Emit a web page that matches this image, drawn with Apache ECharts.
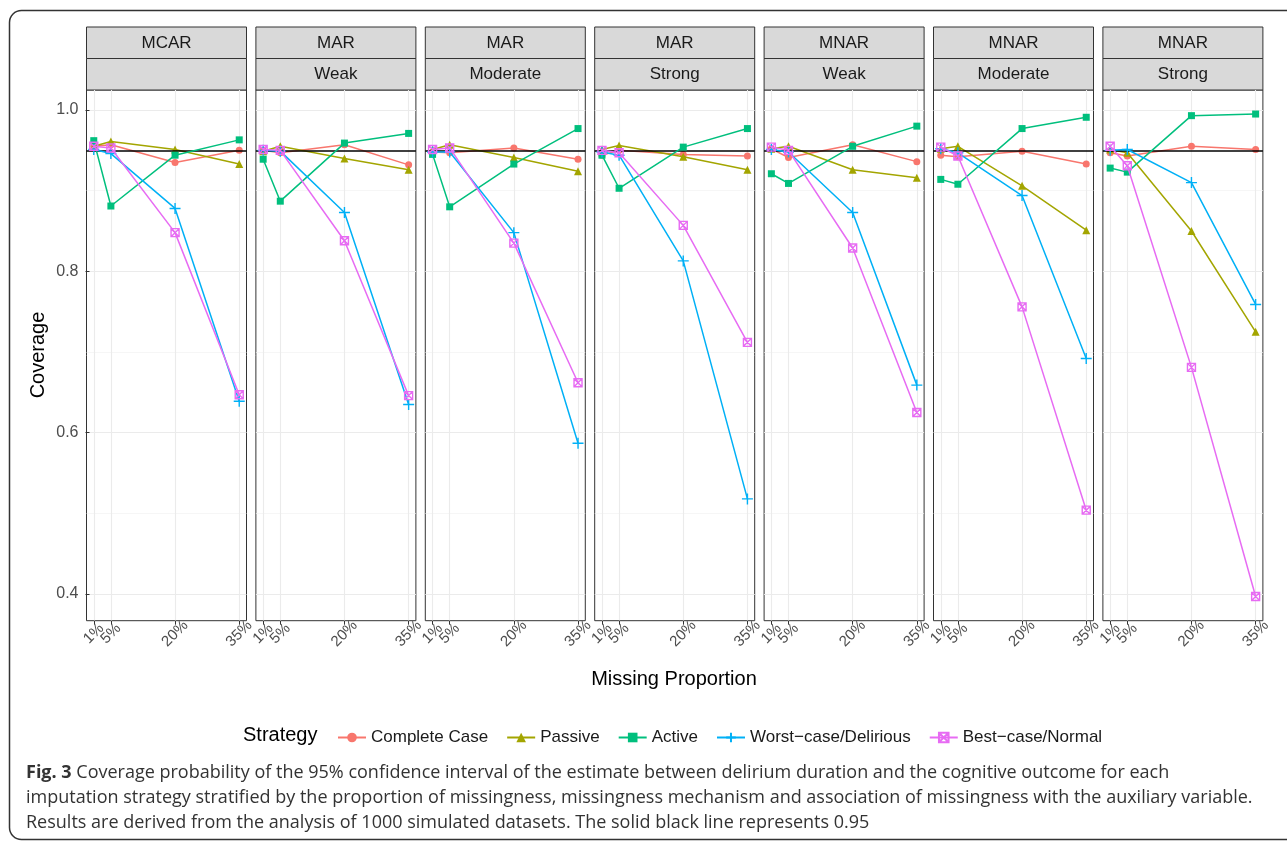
<!DOCTYPE html>
<html>
<head>
<meta charset="utf-8">
<script src="https://cdn.jsdelivr.net/npm/echarts@6/dist/echarts.min.js"></script>
<style>
html,body{margin:0;padding:0;background:#fff;}
#chart{width:1287px;height:845px;}
</style>
</head>
<body>
<div id="chart"></div>
<script>
// ---------- data ----------
const panelTop = ['MCAR', 'MAR', 'MAR', 'MAR', 'MNAR', 'MNAR', 'MNAR'];
const panelSub = ['', 'Weak', 'Moderate', 'Strong', 'Weak', 'Moderate', 'Strong'];
const proportions = [1, 5, 20, 35];
const yTicks = [0.4, 0.6, 0.8, 1.0];
const yMinorTicks = [0.5, 0.7, 0.9];
const strategies = ['Complete Case', 'Passive', 'Active', 'Worst\u2212case/Delirious', 'Best\u2212case/Normal'];
const reference = 0.95;

const completeCase = [
  [0.955, 0.957, 0.935, 0.950],
  [0.950, 0.947, 0.957, 0.932],
  [0.948, 0.947, 0.953, 0.939],
  [0.944, 0.950, 0.945, 0.943],
  [0.952, 0.941, 0.957, 0.936],
  [0.944, 0.942, 0.949, 0.933],
  [0.947, 0.943, 0.955, 0.951]
];
const passive = [
  [0.955, 0.961, 0.951, 0.933],
  [0.949, 0.955, 0.940, 0.926],
  [0.951, 0.957, 0.941, 0.924],
  [0.951, 0.956, 0.942, 0.926],
  [0.952, 0.955, 0.926, 0.916],
  [0.952, 0.955, 0.906, 0.851],
  [0.951, 0.947, 0.850, 0.725]
];
const active = [
  [0.962, 0.881, 0.944, 0.963],
  [0.939, 0.887, 0.959, 0.971],
  [0.945, 0.880, 0.933, 0.977],
  [0.944, 0.903, 0.954, 0.977],
  [0.921, 0.909, 0.955, 0.980],
  [0.914, 0.908, 0.977, 0.991],
  [0.928, 0.923, 0.993, 0.995]
];
const worstCase = [
  [0.951, 0.946, 0.878, 0.639],
  [0.950, 0.949, 0.873, 0.635],
  [0.948, 0.948, 0.848, 0.587],
  [0.948, 0.944, 0.813, 0.518],
  [0.951, 0.948, 0.873, 0.659],
  [0.952, 0.947, 0.894, 0.692],
  [0.950, 0.951, 0.910, 0.759]
];
const bestCase = [
  [0.955, 0.953, 0.848, 0.647],
  [0.951, 0.950, 0.838, 0.646],
  [0.951, 0.953, 0.835, 0.662],
  [0.950, 0.947, 0.857, 0.712],
  [0.954, 0.950, 0.829, 0.625],
  [0.954, 0.943, 0.756, 0.504],
  [0.955, 0.931, 0.681, 0.397]
];

// ---------- styling ----------
const seriesValues = [completeCase, passive, active, worstCase, bestCase];
const colors = ['#F8766D', '#A3A500', '#00BF7D', '#00B0F6', '#E76BF3'];
const symbols = [
  'circle',
  'triangle',
  'rect',
  'path://M5,0L5,10M0,5L10,5',
  'path://M0,0L10,0L10,10L0,10ZM0,0L10,10M10,0L0,10'
];
const symbolSizes = [7, 8, 7, 11, 8];
const hollow = [false, false, false, true, true];

const FONT = '"Liberation Sans", Arial, sans-serif';
const GRID_LEFT0 = 86.5, GRID_STEP = 169.4, GRID_W = 160, GRID_TOP = 90, GRID_H = 530.7;
const Y_MIN = 0.367, Y_MAX = 1.0248, X_MIN = -0.7, X_MAX = 36.7;

const grids = [], xAxes = [], yAxes = [], series = [], graphics = [];

const xLabelStyle = {
  formatter: v => v + '%',
  interval: 0, hideOverlap: false,
  rotate: 45, margin: 13, align: 'center', verticalAlign: 'middle',
  color: '#4d4d4d', fontSize: 15, fontFamily: FONT
};

for (let p = 0; p < panelTop.length; p++) {
  const left = GRID_LEFT0 + GRID_STEP * p;
  grids.push({
    left: left, top: GRID_TOP, width: GRID_W, height: GRID_H,
    show: true, backgroundColor: '#fff', borderColor: '#333', borderWidth: 1,
    containLabel: false
  });
  // main x axis: ticks + grid lines at all proportions, labels for 5/20/35
  xAxes.push({
    type: 'value', gridIndex: p, min: X_MIN, max: X_MAX, position: 'bottom',
    axisLine: { show: false },
    axisTick: { show: true, length: 4, customValues: proportions, lineStyle: { color: '#333', width: 1 } },
    axisLabel: Object.assign({ show: true, customValues: proportions.slice(1) }, xLabelStyle),
    splitLine: { show: true, lineStyle: { color: '#EBEBEB', width: 1.1 } }
  });
  // companion x axis carrying only the first label (avoids overlap hiding)
  xAxes.push({
    type: 'value', gridIndex: p, min: X_MIN, max: X_MAX, position: 'bottom', offset: 0,
    axisLine: { show: false },
    axisTick: { show: false, customValues: proportions.slice(0, 1) },
    axisLabel: Object.assign({ show: true, customValues: proportions.slice(0, 1) }, xLabelStyle),
    splitLine: { show: false }
  });
  yAxes.push({
    type: 'value', gridIndex: p, min: Y_MIN, max: Y_MAX,
    axisLine: { show: false },
    axisTick: { show: p === 0, length: 4, customValues: yTicks, lineStyle: { color: '#333', width: 1 } },
    axisLabel: {
      show: p === 0, customValues: yTicks, formatter: v => v.toFixed(1),
      margin: 8, color: '#4d4d4d', fontSize: 16, fontFamily: FONT
    },
    splitLine: { show: true, lineStyle: { color: '#EBEBEB', width: 1.1 } }
  });
  // minor horizontal grid lines
  yAxes.push({
    type: 'value', gridIndex: p, min: Y_MIN, max: Y_MAX, position: 'left',
    axisLine: { show: false },
    axisTick: { show: false, customValues: yMinorTicks },
    axisLabel: { show: false, customValues: yMinorTicks },
    splitLine: { show: true, lineStyle: { color: '#F2F2F2', width: 0.7 } }
  });
}

for (let p = 0; p < panelTop.length; p++) {
  for (let s = 0; s < strategies.length; s++) {
    const vals = seriesValues[s][p];
    const ser = {
      type: 'line', name: strategies[s],
      xAxisIndex: p * 2, yAxisIndex: p * 2,
      data: proportions.map((x, i) => [x, vals[i]]),
      symbol: symbols[s], symbolSize: symbolSizes[s],
      showAllSymbol: true, clip: false,
      lineStyle: { color: colors[s], width: 1.5 },
      itemStyle: hollow[s]
        ? { color: 'rgba(0,0,0,0)', borderColor: colors[s], borderWidth: 1.4 }
        : { color: colors[s], borderWidth: 0 },
      emphasis: { disabled: true },
      animation: false,
      z: 3 + s
    };
    if (s === 0) {
      ser.markLine = {
        silent: true, symbol: 'none', animation: false,
        label: { show: false },
        lineStyle: { color: '#000', type: 'solid', width: 1.5 },
        data: [{ yAxis: reference }]
      };
    }
    series.push(ser);
  }
}

// strips
for (let p = 0; p < panelTop.length; p++) {
  const left = GRID_LEFT0 + GRID_STEP * p;
  graphics.push({
    type: 'rect', shape: { x: left, y: 27, width: GRID_W, height: 31.5 },
    style: { fill: '#D9D9D9', stroke: '#333', lineWidth: 1 }, silent: true
  });
  graphics.push({
    type: 'rect', shape: { x: left, y: 58.5, width: GRID_W, height: 31.5 },
    style: { fill: '#D9D9D9', stroke: '#333', lineWidth: 1 }, silent: true
  });
  graphics.push({
    type: 'text', x: left + GRID_W / 2, y: 43,
    style: { text: panelTop[p], fill: '#1a1a1a', font: '17px ' + FONT, align: 'center', verticalAlign: 'middle' },
    silent: true
  });
  if (panelSub[p]) {
    graphics.push({
      type: 'text', x: left + GRID_W / 2, y: 74.5,
      style: { text: panelSub[p], fill: '#1a1a1a', font: '17px ' + FONT, align: 'center', verticalAlign: 'middle' },
      silent: true
    });
  }
}

// titles
graphics.push({
  type: 'text', x: 38, y: 355, rotation: Math.PI / 2,
  style: { text: 'Coverage', fill: '#000', font: '20px ' + FONT, align: 'center', verticalAlign: 'middle' }, silent: true
});
graphics.push({
  type: 'text', x: 674, y: 679,
  style: { text: 'Missing Proportion', fill: '#000', font: '20px ' + FONT, align: 'center', verticalAlign: 'middle' }, silent: true
});
graphics.push({
  type: 'text', x: 243, y: 735,
  style: { text: 'Strategy', fill: '#000', font: '20px ' + FONT, align: 'left', verticalAlign: 'middle' }, silent: true
});

// outer frame
graphics.push({
  type: 'rect', shape: { x: 9.5, y: 10.5, width: 1300, height: 829, r: 12 },
  style: { fill: 'none', stroke: '#333', lineWidth: 1.5 }, silent: true, z: -1
});

// caption
const CAP_FONT = '"Open Sans", "Noto Sans", sans-serif';
const captionLines = [
  '{b|Fig. 3} Coverage probability of the 95% confidence interval of the estimate between delirium duration and the cognitive outcome for each',
  'imputation strategy stratified by the proportion of missingness, missingness mechanism and association of missingness with the auxiliary variable.',
  'Results are derived from the analysis of 1000 simulated datasets. The solid black line represents 0.95'
];
captionLines.forEach((t, i) => {
  graphics.push({
    type: 'text', x: 26, y: 773 + i * 25,
    style: {
      text: t, fill: '#333', font: '18px ' + CAP_FONT, align: 'left', verticalAlign: 'middle',
      rich: { b: { fontWeight: 'bold', fontSize: 18, fontFamily: CAP_FONT, fill: '#333' } }
    },
    silent: true
  });
});

const chart = echarts.init(document.getElementById('chart'), null, { renderer: 'canvas' });
chart.setOption({
  animation: false,
  backgroundColor: '#fff',
  textStyle: { fontFamily: FONT },
  grid: grids,
  xAxis: xAxes,
  yAxis: yAxes,
  legend: {
    data: strategies.map((n) => ({ name: n })),
    left: 332, top: 724,
    itemWidth: 28, itemHeight: 12, itemGap: 18,
    textStyle: { fontSize: 17, color: '#1a1a1a', fontFamily: FONT },
    selectedMode: false
  },
  series: series,
  graphic: graphics
});
</script>
</body>
</html>
